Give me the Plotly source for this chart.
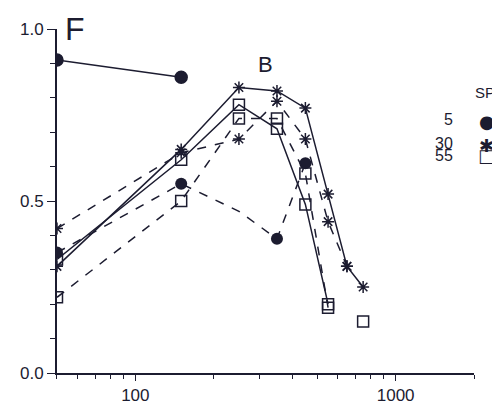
import plotly.graph_objects as go

freq = [50, 150, 250, 350, 450, 550, 650, 750]

circ_a_x = [50, 150]
circ_a_y = [0.91, 0.86]
circ_b_x = [50, 150, 250, 350, 450]
circ_b_y = [0.35, 0.55, 0.47, 0.39, 0.61]

star_a_y = [0.31, 0.65, 0.83, 0.82, 0.77, 0.52, 0.31, 0.25]
star_b_y = [0.42, 0.64, 0.68, 0.79, 0.68, 0.44, 0.31]

sq_a_x = [50, 150, 250, 350, 450, 550]
sq_a_y = [0.33, 0.62, 0.78, 0.71, 0.49, 0.20]
sq_b_x = [50, 150, 250, 350, 450, 550]
sq_b_y = [0.22, 0.50, 0.74, 0.74, 0.58, 0.19]
sq_c_x = [750]
sq_c_y = [0.15]

ink = "#1c1c30"
fig = go.Figure()


def add(x, y, dash, symbol, size, mode="lines+markers"):
    fig.add_trace(go.Scatter(
        x=x, y=y, mode=mode,
        line=dict(color=ink, width=1.5, dash=dash),
        marker=dict(symbol=symbol, size=size, color=ink, line=dict(color=ink, width=1.5)),
        showlegend=False))


add(circ_a_x, circ_a_y, "solid", "circle", 12)
# dashed circle series, middle point has no marker
fig.add_trace(go.Scatter(x=circ_b_x, y=circ_b_y, mode="lines",
                         line=dict(color=ink, width=1.5, dash="dash"), showlegend=False))
fig.add_trace(go.Scatter(x=[circ_b_x[i] for i in (0, 1, 3, 4)],
                         y=[circ_b_y[i] for i in (0, 1, 3, 4)], mode="markers",
                         marker=dict(symbol="circle", size=12, color=ink), showlegend=False))
add(freq, star_a_y, "solid", "asterisk-open", 10)
add(freq[:7], star_b_y, "dash", "asterisk-open", 10)
add(sq_a_x, sq_a_y, "solid", "square-open", 11)
add(sq_b_x, sq_b_y, "dash", "square-open", 11)
add(sq_c_x, sq_c_y, "solid", "square-open", 11, mode="markers")

font = dict(family="Liberation Sans, Arial", color=ink)
fig.update_layout(
    width=500, height=416,
    margin=dict(l=46, r=34, t=19, b=51),
    plot_bgcolor="white", paper_bgcolor="white",
    font=dict(size=17, **font),
    xaxis=dict(type="log", range=[1.699, 3.301], tickvals=[100, 1000], ticktext=["100", "1000"],
               showgrid=False, zeroline=False, showline=True, linecolor=ink, linewidth=2,
               ticks="outside", ticklen=6, tickcolor=ink,
               minor=dict(ticks="outside", ticklen=4, tickcolor=ink,
                          tickvals=[50, 60, 70, 80, 90, 200, 300, 400, 500, 600, 700, 800, 900, 2000])),
    yaxis=dict(range=[0, 1], tickvals=[0, 0.5, 1.0], ticktext=["0.0", "0.5", "1.0"],
               showgrid=False, zeroline=False, showline=True, linecolor=ink, linewidth=2,
               ticks="outside", ticklen=8, tickcolor=ink,
               minor=dict(ticks="outside", ticklen=5, tickcolor=ink, dtick=0.1)),
)

fig.add_annotation(x=0.015, y=1.0, xref="paper", yref="paper", text="F", showarrow=False,
                   xanchor="left", yanchor="middle", font=dict(size=32, **font))
fig.add_annotation(x=0.5, y=0.94, xref="paper", yref="paper", text="B", showarrow=False,
                   font=dict(size=22, **font))
fig.add_annotation(x=1.075, y=0.847, xref="paper", yref="paper", text="SPL", showarrow=False,
                   xanchor="right", font=dict(size=15, **font))
legend_rows = [("5", "●"), ("30", "✱"), ("55", "□")]
for i, (lab, sym) in enumerate(legend_rows):
    yy = 0.766 - i * 0.067
    fig.add_annotation(x=0.955, y=yy, xref="paper", yref="paper", text=lab, showarrow=False,
                       xanchor="right", font=dict(size=16, **font))
    fig.add_annotation(x=1.03, y=yy, xref="paper", yref="paper", text=sym, showarrow=False,
                       xanchor="center", font=dict(size=18, family="DejaVu Sans", color=ink))

fig.write_html("out.html")
